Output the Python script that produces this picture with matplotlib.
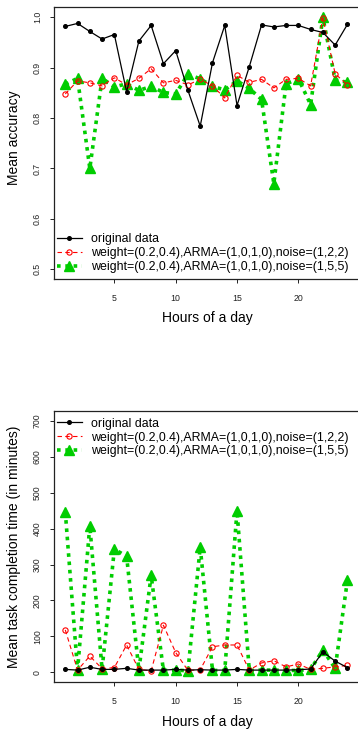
import matplotlib
matplotlib.use("Agg")
import matplotlib.pyplot as plt
import numpy as np

plt.rcParams['font.family'] = ['Liberation Sans', 'DejaVu Sans']

hours = list(range(1, 25))

acc_orig = [0.982, 0.988, 0.972, 0.957, 0.966, 0.852, 0.953, 0.984, 0.908, 0.934,
            0.855, 0.784, 0.910, 0.984, 0.825, 0.902, 0.985, 0.981, 0.984, 0.984,
            0.976, 0.970, 0.945, 0.986]
acc_n122 = [0.848, 0.874, 0.870, 0.864, 0.880, 0.866, 0.879, 0.898, 0.870, 0.875,
            0.866, 0.877, 0.864, 0.840, 0.885, 0.871, 0.877, 0.860, 0.877, 0.879,
            0.864, 0.999, 0.888, 0.866]
acc_n155 = [0.867, 0.879, 0.700, 0.879, 0.862, 0.868, 0.855, 0.863, 0.851, 0.848,
            0.887, 0.878, 0.863, 0.856, 0.874, 0.859, 0.837, 0.670, 0.868, 0.878,
            0.827, 1.000, 0.876, 0.871]

time_orig = [8, 6, 14, 8, 8, 11, 6, 6, 6, 8, 6, 7, 6, 6, 8, 6, 6, 6, 6, 7, 9, 57, 31, 13]
time_n122 = [118, 6, 45, 10, 13, 76, 8, 4, 131, 55, 5, 7, 71, 76, 76, 6, 26, 32, 15, 23,
             8, 11, 15, 19]
time_n155 = [447, 6, 408, 8, 343, 323, 6, 270, 5, 6, 4, 349, 5, 5, 450, 5, 6, 6, 5, 5,
             8, 62, 11, 256]

labels = ["original data",
          "weight=(0.2,0.4),ARMA=(1,0,1,0),noise=(1,2,2)",
          "weight=(0.2,0.4),ARMA=(1,0,1,0),noise=(1,5,5)"]

W, H = 358, 731
fig = plt.figure(figsize=(W / 100, H / 100), dpi=100)

green = '#00CD00'
red = '#FF0000'

def draw(ax, y0, y1, y2):
    lg = ax.plot(hours, y2, color=green, linestyle=(0, (1.0, 1.3)), lw=2.6,
                 marker='^', ms=6.5, mfc=green, mec=green, zorder=2)[0]
    lr = ax.plot(hours, y1, color=red, linestyle=(0, (4, 3)), lw=0.8,
                 marker='o', ms=3.8, mfc='none', mec=red, mew=0.8, zorder=3)[0]
    lb = ax.plot(hours, y0, color='black', lw=0.9,
                 marker='o', ms=2.6, mfc='black', mec='black', zorder=4)[0]
    return [lb, lr, lg]

def style(ax):
    ax.set_xlim(0.08, 24.92)
    ax.set_xticks([5, 10, 15, 20])
    for s in ax.spines.values():
        s.set_linewidth(0.9)
        s.set_color('#222222')
    ax.tick_params(axis='both', direction='out', length=3.2, width=0.7,
                   labelsize=6.3, colors='#222222')
    ax.tick_params(axis='x', pad=7.5)
    ax.tick_params(axis='y', pad=5.5)
    for t in ax.get_yticklabels():
        t.set_rotation(90)
        t.set_va('center')

# Top panel
ax1 = fig.add_axes([54 / W, (H - 279.3) / H, (358.7 - 54) / W, 272 / H])
h1 = draw(ax1, acc_orig, acc_n122, acc_n155)
ax1.set_ylim(0.48, 1.02)
ax1.set_yticks([0.5, 0.6, 0.7, 0.8, 0.9, 1.0])
ax1.set_yticklabels(['0.5', '0.6', '0.7', '0.8', '0.9', '1.0'])
style(ax1)
ax1.text(0.502, -0.141, "Hours of a day", transform=ax1.transAxes,
         ha='center', va='center', fontsize=10)
ax1.text(-0.13, 0.52, "Mean accuracy", transform=ax1.transAxes,
         ha='center', va='center', rotation=90, fontsize=10)
ax1.legend(h1, labels, loc='lower left', bbox_to_anchor=(0.01, 0.023),
           frameon=False, fontsize=8.9, handlelength=2.0, handletextpad=0.75,
           labelspacing=0.15, borderpad=0, borderaxespad=0)

# Bottom panel
ax2 = fig.add_axes([54 / W, (H - 682.3) / H, (358.7 - 54) / W, 271.3 / H])
h2 = draw(ax2, time_orig, time_n122, time_n155)
ax2.set_ylim(-28, 728)
ax2.set_yticks([0, 100, 200, 300, 400, 500, 600, 700])
style(ax2)
ax2.text(0.502, -0.145, "Hours of a day", transform=ax2.transAxes,
         ha='center', va='center', fontsize=10)
ax2.text(-0.13, 0.5, "Mean task completion time (in minutes)", transform=ax2.transAxes,
         ha='center', va='center', rotation=90, fontsize=10)
ax2.legend(h2, labels, loc='upper left', bbox_to_anchor=(0.01, 0.975),
           frameon=False, fontsize=8.9, handlelength=2.0, handletextpad=0.75,
           labelspacing=0.15, borderpad=0, borderaxespad=0)

fig.savefig("out.png", dpi=100)
